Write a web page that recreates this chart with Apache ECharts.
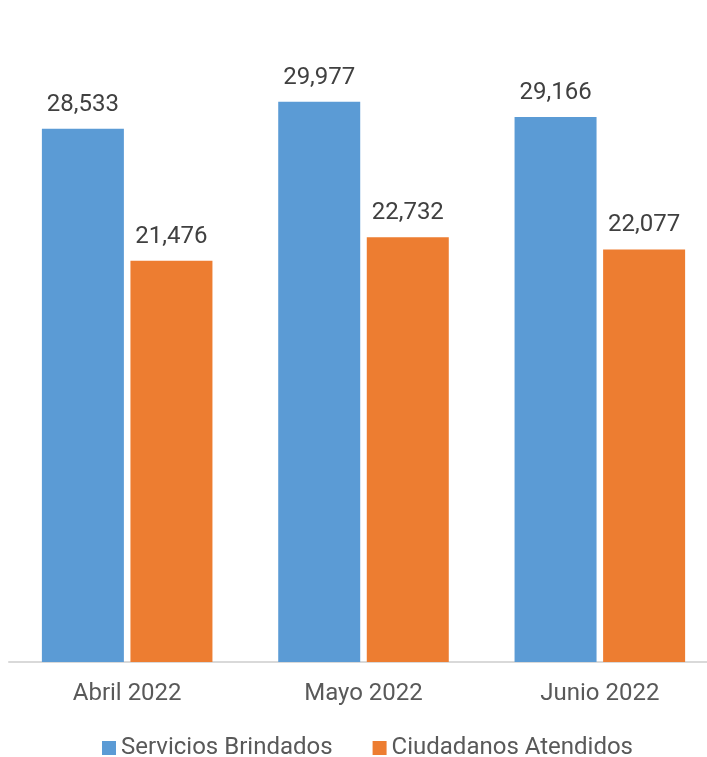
<!DOCTYPE html>
<html>
<head>
<meta charset="utf-8">
<script src="https://cdn.jsdelivr.net/npm/echarts@6/dist/echarts.min.js"></script>
<style>
html,body{margin:0;padding:0;background:#fff;overflow:hidden;}
#chart{width:720px;height:757px;}
</style>
</head>
<body>
<div id="chart"></div>
<script>
const categories = ['Abril 2022', 'Mayo 2022', 'Junio 2022'];
const serviciosBrindados = [28533, 29977, 29166];
const ciudadanosAtendidos = [21476, 22732, 22077];
const seriesNames = ['Servicios Brindados', 'Ciudadanos Atendidos'];

const chart = echarts.init(document.getElementById('chart'), null, {renderer: 'canvas'});
const fmt = p => p.value.toLocaleString('en-US');
const labelStyle = {
  show: true, position: 'top', distance: 12,
  fontFamily: 'Roboto', fontSize: 24, color: '#404040', formatter: fmt
};
chart.setOption({
  animation: false,
  textStyle: {fontFamily: 'Roboto'},
  grid: {left: 9, top: 8, width: 709, height: 654, containLabel: false},
  legend: {
    data: seriesNames,
    top: 731,
    left: 97,
    itemWidth: 14, itemHeight: 14, itemGap: 40,
    icon: 'rect',
    textStyle: {fontFamily: 'Roboto', fontSize: 24, color: '#595959'}
  },
  xAxis: {
    type: 'category',
    data: categories,
    axisLine: {lineStyle: {color: '#d9d9d9', width: 2}},
    axisTick: {show: false},
    axisLabel: {fontFamily: 'Roboto', fontSize: 24, color: '#595959', margin: 20}
  },
  yAxis: {
    type: 'value', min: 0, max: 35000,
    show: false, splitLine: {show: false}
  },
  series: [
    {name: seriesNames[0], type: 'bar', data: serviciosBrindados,
     itemStyle: {color: '#5B9BD5'}, barWidth: 82, barGap: '8%', label: labelStyle},
    {name: seriesNames[1], type: 'bar', data: ciudadanosAtendidos,
     itemStyle: {color: '#ED7D31'}, barWidth: 82, barGap: '8%', label: labelStyle}
  ]
});
</script>
</body>
</html>
